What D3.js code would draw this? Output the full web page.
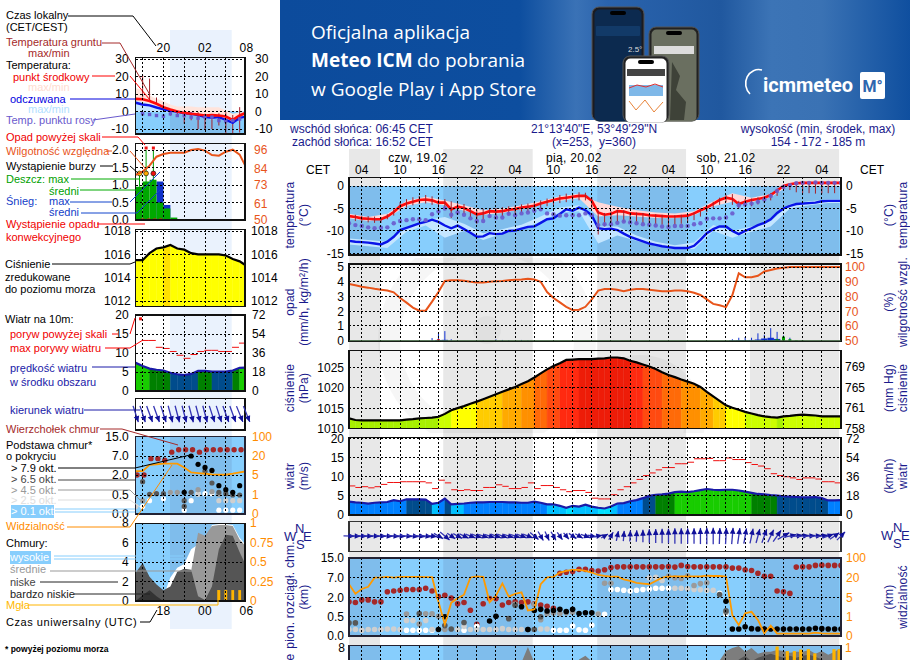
<!DOCTYPE html>
<html><head><meta charset="utf-8">
<script src="https://d3js.org/d3.v7.min.js"></script>
<style>
html,body{margin:0;padding:0;background:#fff;overflow:hidden}
svg{display:block}
text{font-family:"Liberation Sans",Arial,sans-serif;font-size:12px}
</style></head><body>
<svg id="c" width="910" height="660"></svg>
<script>
// ---------- meteogram data: hourly, starting Thursday 02:00 CET ----------
const hourLabels=["04","10","16","22","04","10","16","22","04","10","16","22","04"];
const hourLabelIdx=[2,8,14,20,26,32,38,44,50,56,62,68,74];
const dateLabels=["czw, 19.02","pią, 20.02","sob, 21.02"];
const dateLabelIdx=[10.8,35.2,59];
const nightSpans=[[0,4.85],[14.75,28.75],[38.85,52.75],[62.75,76.7]];
const temp=[-6.7,-6.9,-7.2,-7.3,-7.4,-7.4,-6.8,-5.8,-4.5,-3.9,-3.5,-3.1,-3.0,-3.2,-3.7,-3.7,-5.2,-4.6,-4.9,-5.6,-6.3,-6.1,-5.6,-5.7,-5.6,-5.3,-5.1,-4.8,-4.6,-4.4,-3.9,-3.5,-3.1,-2.8,-2.6,-2.4,-2.2,-2.2,-3.3,-5.9,-6.4,-6.2,-5.6,-5.7,-6.1,-6.2,-6.3,-6.5,-6.6,-6.7,-6.8,-6.8,-6.7,-6.6,-6.1,-5.4,-4.8,-4,-3.1,-2.6,-2.9,-4,-3.5,-3.1,-2.9,-2.6,-2,-1,0,.4,.6,.7,.7,.7,.7,.7,.7,.7];
const feels=[-12.2,-12.4,-12.5,-12.6,-12.8,-13,-12.4,-11.3,-9.8,-9.3,-8.8,-8.3,-8,-7.5,-8,-8.8,-9.4,-8.8,-9.6,-10.4,-11.3,-11.2,-10.5,-10.7,-10.6,-10,-9.9,-9.5,-9.1,-9,-8.2,-7.4,-7.2,-6.2,-5.2,-5.5,-4.8,-5.4,-6.5,-9.4,-9.6,-9.5,-9.8,-10.6,-11.3,-11.8,-12.3,-12.8,-13.1,-13.4,-13.6,-13.8,-13.8,-13.8,-13.3,-12,-10.5,-9.6,-9,-9,-10,-10.7,-10,-9.4,-8.7,-8.2,-7.4,-6,-5,-4.4,-4,-3.9,-3.8,-3.7,-3.4,-3.3,-3.3,-3.3];
const dewPoint=[-8.3,-8.7,-8.9,-9.2,-9.4,-9.3,-9.2,-8.3,-7.8,-7.6,-7.4,-7.4,-7.6,-6.3,-5.7,-5,-6.4,-5.9,-6.4,-7.2,-7.8,-7.8,-6.7,-7,-7,-6.2,-6.5,-6.1,-5.9,-5.5,-5.2,-6.1,-6.3,-6.6,-6.5,-6.5,-6.5,-6.1,-6.5,-8.7,-8.5,-8.5,-8.2,-7.9,-8.1,-8.3,-8.5,-8.6,-8.8,-9,-9.1,-8.9,-8.9,-8.9,-8.5,-8.3,-7.3,-7.2,-7.2,-7,-6.1,-4.3,-4.1,-3.9,-3.5,-3,-2.2,-1.1,-.2,.2,.6,.7,.7,.8,.7,.7,.7,.7];
const soilMax=[-6.3,-6.4,-6.6,-6.7,-6.8,-6.9,-6.3,-5.2,-3.6,-2.9,-2.5,-2.2,-2.0,-2.3,-3.0,-2.9,-3.4,-3.8,-4.0,-4.8,-5.3,-5.1,-4.9,-4.9,-4.7,-4.5,-4.4,-4.1,-3.9,-3.6,-3.2,-2.8,-2.4,-2.0,-1.7,-1.6,-1.4,-1.5,-2.5,-5.5,-6.0,-5.6,-5.3,-5.4,-5.8,-5.9,-6.0,-6.2,-6.3,-6.4,-6.5,-6.5,-6.4,-6.3,-5.8,-5.0,-4.3,-3.5,-2.6,-1.9,-1.8,-3.3,-2.9,-2.8,-2.5,-2.2,-1.6,-0.6,0.2,0.5,0.7,0.8,0.8,0.8,0.8,0.8,0.8,0.8];
const soilMin=[-7.6,-7.8,-8,-8.1,-8.2,-8.2,-7.4,-6.6,-5.4,-4.8,-4.3,-4.0,-3.9,-4.2,-4.8,-5,-7.1,-6,-6.2,-7,-8.4,-7.4,-7,-6.9,-6.8,-6.4,-6.2,-5.9,-5.8,-5.5,-4.9,-4.5,-4.2,-3.8,-3.6,-3.4,-3.2,-3.2,-5,-10.8,-9,-8.6,-8,-8,-8.2,-8.2,-8.3,-8.4,-8.5,-8.6,-8.7,-8.6,-8.4,-8.2,-7.6,-6.8,-5.8,-5,-4.2,-3.6,-4.2,-5,-4.6,-4.5,-4.1,-3.8,-3.2,-2.2,-1,-.9,-1.4,-1.6,-1.6,-1.7,-1.7,-1.6,-1.6,-1.5];
// 3-hourly bands
const bandIdx=[0,3,6,9,12,15,18,21,24,27,30,33,36,39,42,45,48,51,54,57,60,63,66,69,72,75,77];
const tempHi=[-6.2,-6.9,-6.2,-3.3,-2.4,-3.2,-4.3,-5.4,-5.0,-4.3,-3.4,-2.3,-1.7,-3.6,-4.6,-5.4,-5.9,-6.1,-5.6,-3.4,-1.6,-2.6,-1.8,0.9,1.0,1.0,1.0];
const tempLo=[-7.2,-7.8,-7.2,-4.4,-3.6,-4.3,-5.5,-6.4,-6.0,-5.1,-4.2,-3.3,-2.7,-6.8,-6.5,-6.8,-7.1,-7.2,-6.5,-4.5,-3.5,-3.6,-2.5,0.2,.4,.4,.4];
const feelsHi=[-11.7,-12,-12.4,-9.4,-7.6,-6.9,-8.4,-10.5,-9.6,-8.6,-6.8,-4.8,-4.3,-9,-9,-11.0,-12.4,-13.2,-12.6,-8.7,-10,-9,-7.8,-4,-3.4,-3,-3];
const feelsLo=[-13,-13.4,-13.8,-10.2,-8.8,-11.5,-10,-12,-10.6,-9.7,-7.9,-5.9,-5.6,-12.8,-11,-12.2,-13.3,-14,-14,-10,-11.5,-10.2,-9,-5,-4.3,-3.8,-3.8];
const humidity=[88.5,87.6,86.6,86,85.2,84.6,84,82.8,79,75.8,72.5,70.4,70.4,76.5,83,90.5,91,91,90.6,90,89.5,89.5,90,90.3,90.5,91,91.3,91.5,92,91.5,90,83,79,76,73,70.8,71,73,78,84,85,85,84.5,83.5,84.5,85,85,84.5,84,83.5,83.5,84,84,83.5,82.5,81,78,75,74,72.8,81,95.7,93,93,94,97,98,99,99.5,100,100,100,100,100,100,100,100,100];
const snowMax=[[13,.18],[14,.55],[15,.65],[16,.1],[21,.03],[23,.08],[24,.05],[25,.04],[27,.05],[28,.03],[60,.1],[61,.2],[62,.25],[63,.2],[64,.5],[65,.4],[66,.85],[67,.6],[68,.35],[69,.2]];
const snowMean=[[14,.05],[15,.06],[60,.03],[61,.04],[62,.04],[63,.05],[64,.08],[65,.15],[66,.2],[67,.12]];
const rainMean=[[67,.1],[68,.28],[69,.1],[70,.03],[71,.02]];
const pressure=[1012.5,1012.1,1012,1012,1012,1012,1012,1012,1012,1012.2,1012.3,1012.5,1012.6,1012.7,1012.9,1013.6,1014.5,1015,1015.5,1016.1,1016.6,1017.2,1017.8,1018.4,1019,1019.6,1020.2,1020.9,1021.6,1022.5,1023.5,1024.5,1025.3,1026,1026.8,1026.9,1027,1027,1027,1027.1,1027.2,1027.4,1027.4,1027.2,1026.6,1026.2,1025.7,1025.2,1024.6,1023.8,1023.1,1022.6,1022,1021.5,1021,1020.2,1019,1017.9,1016.8,1015.7,1015.1,1014.6,1014.1,1013.7,1013.3,1013,1012.8,1012.7,1013,1013.1,1013.3,1013.4,1013.3,1013.2,1013,1013,1013,1013];
const pressureBreaks=[1012.8,1014.5,1016.4,1018.5,1020.5,1022.2,1024,1026,1027];
const pressureColors=["#a8f000","#ccff00","#ffff00","#ffcc00","#ffaa00","#ff9000","#ff6a08","#ff4a10","#ff2a10","#ee1c08"];
const wind=[3.5,3.3,3.2,3,3.2,3.3,3.4,3.9,3.6,4.1,4.1,4.1,4,2.9,3.2,4.3,2.8,2.9,3,3.2,3.3,3.3,3.4,3.4,3.4,3.3,3.3,3.2,3.2,3.5,3.2,2.8,2.8,2.4,1.9,2.4,2.2,2.7,2.2,1.9,1.7,2.2,3,3.1,3.6,3.9,4.4,5,5.3,5.4,5.6,6,6.1,6,6.2,6.5,6.8,6.6,6.5,6.6,6.6,6.4,6.1,5.8,5.5,5.4,5.2,5.1,4.9,4.8,4.7,4.6,4.6,4.7,4.4,3.8,3.8,3.9];
const windBreaks=[2,3,4,5.2,6];
const windColors=["#00e0ff","#00c0ff","#0080ff","#004c8c","#008000","#18cc00"];
const gust=[7.6,7.2,7.4,7.1,7.4,8,8.5,8.5,8.7,8.7,8.7,8.7,8.4,6.9,9.1,8.4,6.6,6.4,6.6,6.4,6.4,7.2,7.2,7.9,7.5,6.9,6.9,7.2,8.4,6.9,7.7,7.7,7.2,6.6,6.1,6.4,6.4,5.9,4.4,4.2,4.2,5.3,6.6,7.4,8.4,9.3,10.3,11,11.8,12.4,12.4,13.4,13.4,13.8,14.7,14.7,14.8,14.2,14.2,14.9,14.5,14.5,13.7,13.2,12.8,12.1,10.8,10.3,10,9.7,9.3,9.7,9.7,9.4,8.7,8.7,8.4,8.4];
const windHeading=[92,92,93,93,94,94,95,95,94,95,96,96,97,98,120,130,125,118,115,112,110,108,108,110,110,108,108,110,112,130,150,155,150,145,140,125,120,110,100,80,60,30,12,5,3,2,0,0,0,0,0,0,0,0,0,0,0,0,2,3,5,8,10,12,15,20,25,35,60,78,82,84,85,85,82,70,55,45];
const cloudTop=[1.65,1.6,1.8,1.8,1.65,1.65,3.4,3.6,3.8,4,4,4,4.3,3.6,2.2,2.5,1.95,1.5,1.6,1,.3,1.5,1.9,1.9,1.4,1.6,1.65,1.6,1.65,1.5,1.4,1.3,1.15,8.8,9.2,9.5,10.4,10.4,9.9,9.7,10.2,11.1,11.4,11.4,11.4,11.4,11.4,11.4,11.4,11.4,11.5,11.3,12,11.5,11.4,11.4,11.4,11.4,11.4,11.4,10.9,10.9,10.2,9.9,8.8,7.6,7.6,3.6,3.4,3,11.3,11.4,11.4,12,12.1,12,12,12];
const baseBlack=[[14,.17],[15,.5],[22,.39],[23,.53],[27,1.27],[28,.17],[29,.97],[30,1.07],[31,.94],[32,.97],[33,1.07],[34,.9],[35,1.07],[36,.75],[37,.8],[38,.8],[59,1.7],[60,.18],[61,.18],[62,.24],[63,.19],[64,.18],[65,.18],[66,.18],[67,.18],[68,.18],[69,.18],[70,.18],[71,.18],[72,.18],[73,.2],[74,.19],[75,.18],[76,.18],[77,.18]];
const baseDark=[[0,.34],[1,.34],[11,.75],[15,.27],[16,.18],[18,.35],[25,.45],[26,1.38],[29,.17],[28,.17],[30,.5],[58,2.7],[59,.95]];
const baseMid=[[9,.7],[12,.72],[13,.72],[14,.53],[11,.31],[26,1.45],[29,1.45],[30,.42],[31,.75],[32,.78],[33,.75],[34,.8],[35,.85],[39,.7],[40,5.6],[41,5.6],[50,7.6],[51,7],[52,6.8],[53,7.8],[54,5],[55,5.5],[56,5.7],[59,.85],[15,.17]];
const baseLight=[[0,.17],[1,.17],[2,.15],[3,.17],[4,.17],[5,.17],[6,.18],[7,.18],[8,.17],[9,.4],[10,.4],[12,.4],[13,.17],[14,.17],[17,.17],[18,.25],[19,.17],[20,.17],[21,.17],[22,.17],[23,.17],[24,.19],[25,.17],[26,.17],[27,.17],[30,.18],[31,.18],[47,7],[48,7.2],[49,6.3],[51,4.3],[52,4.3],[53,4.2],[54,4],[55,3.9],[56,3.8],[57,3.8]];
const baseWhite=[[9,.15],[10,.15],[11,.15],[12,.15],[13,.15],[18,.15],[20,.25],[32,.15],[33,.15],[34,.15],[35,.26],[36,.16],[37,.15],[38,.28],[39,.68],[40,.68],[41,4],[42,4],[43,3.8],[44,3.6],[45,3.8],[46,4],[47,4.1],[48,4.3],[49,4.3],[50,4.3],[58,3],[59,.7]];
const visibility=[15,7.8,11.4,13,20,21,23,20,23,23,23,23,22.5,22,4.1,.6,3.9,4.8,7,21,25,23,4,6.3,15.6,5.5,7.6,8.8,2.3,2.5,15,21,23,41,48,52,52,48,41,31,27,24,24,18.7,17.5,16,15.5,15,17.5,20,24,25,25,25,25,25,28,27,27,25,1.3,.57,1.7,2,.83,.14,.53,.12,.12,.12,.12,.12,.12,.17,.14,.12,.12,.12];
const coverMid=[[26,0],[27,6.5],[28,8.1],[29,6.5],[30,0],[35,0],[36,6.8],[37,7.2],[38,6.6],[39,0],[57,0],[58,6.7],[59,7.7],[60,8],[61,8.2],[62,7.6],[63,8],[64,7.4],[65,7.6],[66,7.6],[67,7.8],[68,7.7],[69,7.5],[70,7.6],[71,7.6],[72,7.8],[73,7.4],[74,7.7],[75,7.3],[76,7.6],[77,8]];
const coverLow=[[60,0],[61,6.8],[62,7.2],[63,6.6],[64,7],[65,7.2],[66,7.4],[67,7.2],[68,7],[69,7.2],[70,7],[71,7.2],[72,7.3],[73,7.1],[74,6.8],[75,6.6],[76,0]];
const fog=[[67,1.02],[68.6,.96],[69.7,.96],[70.7,.98],[71.9,.985],[72.9,.93],[75.9,.985],[76.7,.985]];

// ---------- side meteogram (legend): hourly, 17 points ----------
const lIdx=d3.range(0,17);
const lTemp=[7.2,7,6,4.4,2.5,1.2,0,-.8,-1.3,-1.7,-2.3,-2.1,-2.3,-2.9,-4.8,-2.3,-.6];
const lFeels=[5,4,3.5,2.3,1.2,.4,-.2,-1,-1.3,-2,-3.2,-3.6,-3.2,-4.8,-6.5,-3.6,-2.9];
const lTempHi=[13.4,12,9.2,7.3,5.8,4,2.9,2.9,2.9,2.5,2.5,2.5,2.5,.6,-1.3,-.4,-.4];
const lTempLo=[5.5,5,4.5,3,1.5,0,-1,-1.8,-2,-2.5,-3,-3,-3,-4,-5.5,-3.2,-2];
const lFeelsHi=[6.2,5.5,4.5,3.2,2,1.2,.5,-.3,-.8,-1.3,-2.3,-2.8,-2.5,-3.8,-5.5,-2.8,-2];
const lFeelsLo=[0,0,0,0,-.3,-.8,-1,-1.8,-2,-2.8,-4,-4.5,-4,-5.5,-7.5,-4.5,-3.8];
const lDew=[-1.3,-1.7,-2.3,-2.7,-1.3,-2.3,-2.3,-3.2,-3.8,-3.2,-3.2,-5.2,-5.5,-5.2,-4.3];
const lSoilMax=[20.8,18.8,8,5,.5,0,-1.3,-.5,-.4,-1.3,-1.5,-1,-.4,-2,2.5];
const lSoilMin=[8,6.3,4.4,1.5,-2.3,-3,-7,-5,-10,-10,-10,-8,-12.9,-12.7,-12];
const lHumidity=[79.6,81.8,85.7,91.6,93.4,94.2,94.2,94.2,96,96.7,95.6,92.7,92.3,94.9,96.2,93,84];
const lRain=[.95,1.1,1.15,.5,.33,.07];
const lSnow=[0,0,0,1.1,.43,0];
const lPressure=[1015.5,1015.5,1016.1,1016.5,1016.6,1016.8,1016.5,1016.4,1016.1,1016,1016,1016,1016,1015.9,1015.6,1015.4,1015];
const lWind=[7.4,6.6,5.9,5.6,5.4,4.8,4.4,4.2,4.5,5.3,5.3,5.1,5.1,5.1,5.4,6.1,6.2];
const lGust=[13.3,13.3,11.5,11.2,10.4,9.4,8.6,9.6,10.4,10.7,10.7,10.4,10.4,11.5,12.6,12.8];
const lHeading=[162,162,160,160,162,165,165,165,165,165,165,162,162,160,160,158,158];
const lTop=[2,2,6.3,6.3,5.9,8.6,9.6,9.6,9.6,8.6,9.6,9.6,9.6,9.6,9.6,9.6,9.6];
const lBlack=[[7,.7],[8,7],[9,4.8],[10,4],[11,3.2],[12,1.2],[13,.9],[14,.7],[15,1.2]];
const lDark=[[1,1.5],[2,.55],[3,.6],[4,.6],[7,.35],[7,.2],[8,.7],[10,3],[11,1.4],[12,.7],[13,.6],[14,.5],[15,.5]];
const lMid=[[1,.35],[5,.7],[6,.7],[9,.9],[11,.75],[12,.55],[16,1.3]];
const lLight=[[0,.2],[5,.7],[9,.55],[12,.35],[13,.35],[14,.35],[15,.35]];
const lWhite=[[1,.2],[2,.35],[4,.4],[7,.1],[8,.35],[9,.6],[10,.6],[11,.6],[12,.1],[13,.1],[14,.1],[15,.1]];
const lVis=[8,8,13,13.5,14,14,14,11,7,6.5,6,5.5,5.2,5.2,6,7,8];
const lHigh=[0,0,0,0,.5,2.4,3.4,3.8,5.3,5.8,5.8,7.8,7.9,7.9,7.8,6.5,5.6];
const lCloudMid=[0,0,0,0,0,0,0,2.4,3.1,7,6.7,7.7,7.8,7.8,7.7,6.3,5.5];
const lLow=[2.9,3.9,2.5,1.7,1.1,1.5,3,3.3,3.2,.5,.1,1.5,5.3,6.8,6.7,5,3.5];
const lVeryLow=[0,.6,1.1,.5,0,0,0,0,0,0,0,0,0,0,0,0,0];
const lFog=[0,0,0,0,0,0,0,0,0,0,0,0,.14,.14,.14,.14,0];

const lDateTop=["20","02","08"], lDateBottom=["18","00","06"], lLabelIdx=[4,10,16];

// ---------- drawing ----------
const svg=d3.select("#c");
const BLUE="#87cefd", NIGHTBLUE="#7fbdec", NAVY="#1a1a8c";
const xM=d3.scaleLinear().domain([0,77]).range([349,841]);
const xL=d3.scaleLinear().domain([0,16]).range([135.7,246.6]);
const defs=svg.append("defs");
const grad=defs.append("linearGradient").attr("id","bn");
[[0,"#0c4b9c"],[.38,"#0d4e9f"],[.47,"#3a72b6"],[.52,"#2a63ad"],[.7,"#20589f"],[.78,"#3c74b6"],[.86,"#3a72b4"],[1,"#0f4f9f"]].forEach(s=>grad.append("stop").attr("offset",s[0]).attr("stop-color",s[1]));

function clipId(id,x,y,w,h){defs.append("clipPath").attr("id",id).append("rect").attr("x",x).attr("y",y).attr("width",w).attr("height",h);return `url(#${id})`;}

// night bands
nightSpans.forEach(s=>svg.append("rect").attr("x",xM(s[0])).attr("y",149).attr("width",xM(s[1])-xM(s[0])).attr("height",511).attr("fill","#e8e8e8"));
svg.append("rect").attr("x",xL(4.95)).attr("y",30).attr("width",xL(13.85)-xL(4.95)).attr("height",599).attr("fill","#eaf2fd");

// watermark
const wmClip=clipId("wm",349,258,492,175);
const wm=svg.append("g").attr("clip-path",wmClip).attr("fill","none").attr("stroke","#000").attr("stroke-opacity",.035);
wm.append("circle").attr("cx",487).attr("cy",340).attr("r",98).attr("stroke-width",22);
wm.append("circle").attr("cx",487).attr("cy",330).attr("r",14).attr("fill","#000").attr("fill-opacity",.03).attr("stroke","none");
wm.append("circle").attr("cx",640).attr("cy",420).attr("r",55).attr("stroke-width",20);

// generic panel
function panel(o){
  const g=svg.append("g");
  const id="p"+Math.round(o.x0)+"_"+Math.round(o.y0);
  const cl=clipId(id,o.x0,o.y0,o.x1-o.x0,o.y1-o.y0);
  const body=g.append("g").attr("clip-path",cl);
  o.g=g;o.body=body;o.clip=cl;
  return o;
}
function finish(p,opts){
  const gr=p.body.append("g").attr("stroke","#000").attr("stroke-width",1).attr("stroke-dasharray","2,2").attr("shape-rendering","crispEdges");
  (opts.vgrid||[]).forEach(v=>gr.append("line").attr("x1",opts.x(v)).attr("x2",opts.x(v)).attr("y1",p.y0).attr("y2",p.y1));
  (opts.hgrid||[]).forEach(y=>gr.append("line").attr("x1",p.x0).attr("x2",p.x1).attr("y1",y).attr("y2",y));
  p.g.append("rect").attr("x",p.x0).attr("y",p.y0).attr("width",p.x1-p.x0).attr("height",p.y1-p.y0).attr("fill","none").attr("stroke",opts.frame||"#111").attr("stroke-width",1.2).attr("shape-rendering","crispEdges");
}
function axis(gen,x,scale,vals,fmt,color,pad){
  const a=gen(scale).tickValues(vals).tickSize(0).tickPadding(pad).tickFormat((d,i)=>fmt?fmt(d,i):d);
  const g=svg.append("g").attr("transform",`translate(${x},0)`).call(a);
  g.select(".domain").remove();
  g.selectAll("text").attr("fill",color||"#000").style("font-size","12px").style("font-family",'"Liberation Sans",Arial,sans-serif');
}
function lineOf(x,y){return d3.line().x((d,i)=>x(i)).y(d=>y(d));}
function bandOf(x,y,idx,hi,lo){return d3.area().x((d,i)=>x(idx[i])).y0((d,i)=>y(lo[i])).y1((d,i)=>y(hi[i]))(idx);}
function night(p,x,spans){spans.forEach(s=>p.body.append("rect").attr("x",x(s[0])).attr("y",p.y0).attr("width",x(s[1])-x(s[0])).attr("height",p.y1-p.y0).attr("fill",NIGHTBLUE));}
const vM=d3.range(2,78,3), vL=[1,4,7,10,13];

// ========= MAIN PANELS =========
// temperature
{
 const p=panel({x0:349,x1:841,y0:177.3,y1:255});
 const y=d3.scaleLinear().domain([0,-15]).range([186,253.4]);
 p.body.append("rect").attr("x",349).attr("y",y(0)).attr("width",492).attr("height",80).attr("fill",BLUE);
 nightSpans.forEach(s=>p.body.append("rect").attr("x",xM(s[0])).attr("y",y(0)).attr("width",xM(s[1])-xM(s[0])).attr("height",80).attr("fill",NIGHTBLUE));
 p.body.append("path").attr("d",bandOf(xM,y,bandIdx,feelsHi,feelsLo)).attr("fill","#c4e6ff");
 p.body.append("path").attr("d",bandOf(xM,y,bandIdx,tempHi,tempLo)).attr("fill","#ffd8d8");
 p.body.append("path").attr("d",lineOf(xM,y)(feels)).attr("fill","none").attr("stroke","#0a14e8").attr("stroke-width",2.4);
 p.body.append("path").attr("d",lineOf(xM,y)(temp)).attr("fill","none").attr("stroke","#ff0a0a").attr("stroke-width",2.6);
 p.body.selectAll(".soil").data(soilMax).join("line").attr("x1",(d,i)=>xM(i)).attr("x2",(d,i)=>xM(i)).attr("y1",d=>y(d)).attr("y2",(d,i)=>y(soilMin[i])).attr("stroke","#a5202a").attr("stroke-width",1);
 p.body.selectAll(".dew").data(dewPoint).join("circle").attr("cx",(d,i)=>xM(i)).attr("cy",d=>y(d)).attr("r",2.2).attr("fill","#6a5acd").attr("fill-opacity",.9);
 finish(p,{x:xM,vgrid:vM,hgrid:[0,-5,-10,-15].map(y)});
 axis(d3.axisLeft,349,y,[0,-5,-10,-15],null,"#000",5);
 axis(d3.axisRight,841,y,[0,-5,-10,-15],null,"#000",5);
}
// precipitation / humidity
{
 const p=panel({x0:349,x1:841,y0:264,y1:341.7});
 const y=d3.scaleLinear().domain([0,5]).range([340.7,267]);
 const yR=d3.scaleLinear().domain([50,100]).range([340.7,267]);
 snowMax.forEach(d=>p.body.append("line").attr("x1",xM(d[0])).attr("x2",xM(d[0])).attr("y1",y(0)).attr("y2",y(d[1])).attr("stroke","#1030d0").attr("stroke-width",1));
 snowMean.forEach(d=>p.body.append("rect").attr("x",xM(d[0])-3.2).attr("y",y(d[1])).attr("width",6.4).attr("height",y(0)-y(d[1])).attr("fill","#1030d0"));
 rainMean.forEach(d=>p.body.append("rect").attr("x",xM(d[0])-1.5).attr("y",y(d[1])).attr("width",3).attr("height",y(0)-y(d[1])).attr("fill","#00a000"));
 p.body.append("rect").attr("x",xM(14)-1.5).attr("y",y(.1)).attr("width",3).attr("height",y(0)-y(.1)).attr("fill","#e01010");
 p.body.append("path").attr("d",lineOf(xM,yR)(humidity)).attr("fill","none").attr("stroke","#e8541a").attr("stroke-width",2);
 finish(p,{x:xM,vgrid:vM,hgrid:[1,2,3,4,5].map(y)});
 p.g.append("line").attr("x1",349).attr("x2",841).attr("y1",340.7).attr("y2",340.7).attr("stroke","#355a35").attr("stroke-width",1);
 axis(d3.axisLeft,349,y,[0,1,2,3,4,5],null,"#000",5);
 axis(d3.axisRight,841,yR,[50,60,70,80,90,100],null,"#e8541a",4);
}
// pressure
function pressureFill(p,x,y,vals,color){
  vals.slice(0,-1).forEach((v,i)=>{
    const seg=[i,i+1];
    p.body.append("path").attr("d",d3.area().x(d=>x(d)).y0(p.y1).y1(d=>y(vals[d]))(seg)).attr("fill",color(v)).attr("stroke",color(v)).attr("stroke-width",.4);
  });
}
const pColor=d3.scaleThreshold().domain(pressureBreaks).range(pressureColors);
{
 const p=panel({x0:349,x1:841,y0:350.7,y1:428.3});
 const y=d3.scaleLinear().domain([1010,1025]).range([428.6,367.3]);
 pressureFill(p,xM,y,pressure,pColor);
 p.body.append("path").attr("d",lineOf(xM,y)(pressure)).attr("fill","none").attr("stroke","#000").attr("stroke-width",2.2);
 finish(p,{x:xM,vgrid:vM,hgrid:[1015,1020,1025].map(y)});
 axis(d3.axisLeft,349,y,[1010,1015,1020,1025],null,"#000",5);
 const labs=[758,761,765,769];
 const yPos=d3.scaleOrdinal().domain(labs).range([428.6,408.3,387.7,367.3]);
 svg.selectAll(".mmhg").data(labs).join("text").attr("x",845).attr("y",d=>yPos(d)+4).text(d=>d);
}
// wind
const wColor=d3.scaleThreshold().domain(windBreaks).range(windColors);
{
 const p=panel({x0:349,x1:841,y0:437.7,y1:515});
 const y=d3.scaleLinear().domain([0,20]).range([515,438.5]);
 pressureFill(p,xM,y,wind,wColor);
 p.body.append("path").attr("d",lineOf(xM,y)(wind)).attr("fill","none").attr("stroke","#1a1aa8").attr("stroke-width",2.2);
 p.body.selectAll(".g").data(gust).join("line").attr("x1",(d,i)=>xM(i)).attr("x2",(d,i)=>xM(i+1)).attr("y1",d=>y(d)).attr("y2",d=>y(d)).attr("stroke","#f01010").attr("stroke-width",1);
 finish(p,{x:xM,vgrid:vM,hgrid:[5,10,15,20].map(y)});
 axis(d3.axisLeft,349,y,[0,5,10,15,20],null,"#000",5);
 const yR=d3.scaleLinear().domain([0,72]).range([515,438.5]);
 axis(d3.axisRight,841,yR,[0,18,36,54,72],null,"#000",5);
}
// wind direction
function arrows(sel,x,yMid,headings,speeds,len){
  const dir=h=>[Math.sin(h*Math.PI/180),-Math.cos(h*Math.PI/180)];
  headings.forEach((h,i)=>{
    if(h==null)return;
    const [dx,dy]=dir(h), L=len(speeds[i])/2, cx=x(i);
    sel.append("line").attr("x1",cx-dx*L).attr("y1",yMid-dy*L).attr("x2",cx+dx*L).attr("y2",yMid+dy*L).attr("stroke","#3434b4").attr("stroke-width",1.3);
    const hx=cx+dx*L, hy=yMid+dy*L, s=6, w=2.8;
    const bx=hx-dx*s, by=hy-dy*s;
    sel.append("path").attr("d",`M${hx},${hy}L${bx-dy*w},${by+dx*w}L${bx+dy*w},${by-dx*w}Z`).attr("fill","#10109a");
  });
}
{
 const p=panel({x0:349,x1:841,y0:521.7,y1:551.7});
 finish(p,{x:xM,vgrid:vM,hgrid:[],frame:"#333"});
 arrows(svg.append("g"),xM,536,windHeading,wind,d3.scaleLinear().domain([0,7]).range([5,17]));
}
// cloud panels
const kmDom=[0,.5,2,7,15], visDom=[0,1,5,20,100];
function dots(g,x,y,pairs,fill,r){pairs.forEach(d=>g.append("circle").attr("cx",x(d[0])).attr("cy",y(d[1])).attr("r",r).attr("fill",fill));}
{
 const p=panel({x0:349,x1:841,y0:558,y1:636});
 const rng=[636,616.7,597.3,577.7,558];
 const y=d3.scaleLinear().domain(kmDom).range(rng);
 const yV=d3.scaleLinear().domain(visDom).range(rng);
 p.body.append("rect").attr("x",349).attr("y",558).attr("width",492).attr("height",78).attr("fill",BLUE);
 night(p,xM,nightSpans);
 dots(p.body,xM,y,cloudTop.map((v,i)=>[i,v]),"#a52828",2.8);
 dots(p.body,xM,y,baseWhite,"#ffffff",2.8);
 dots(p.body,xM,y,baseLight,"#cfcfcf",2.8);
 dots(p.body,xM,y,baseMid,"#9a9a9a",2.8);
 dots(p.body,xM,y,baseDark,"#585858",2.8);
 dots(p.body,xM,y,baseBlack,"#000",2.8);
 p.body.append("path").attr("d",lineOf(xM,yV)(visibility)).attr("fill","none").attr("stroke","#ff9a00").attr("stroke-width",1.8);
 finish(p,{x:xM,vgrid:vM,hgrid:rng.slice(1,4),frame:"#223"});
 axis(d3.axisLeft,349,y,kmDom,d=>d3.format(".1f")(d),"#000",5);
 axis(d3.axisRight,841,yV,visDom,null,"#ff8c00",5);
}
{
 const p=panel({x0:349,x1:841,y0:645.7,y1:662});
 const y=d3.scaleLinear().domain([0,8]).range([725,648]);
 const yF=d3.scaleLinear().domain([0,1]).range([725,648]);
 p.body.append("rect").attr("x",349).attr("y",645).attr("width",492).attr("height",20).attr("fill",BLUE);
 night(p,xM,nightSpans);
 const ar=d3.area().x(d=>xM(d[0])).y0(y(0)).y1(d=>y(d[1]));
 p.body.append("path").attr("d",ar(coverMid)).attr("fill","#7d7d7d");
 p.body.append("path").attr("d",ar(coverLow)).attr("fill","#555");
 fog.forEach(d=>p.body.append("rect").attr("x",xM(d[0])-1.6).attr("y",yF(d[1])).attr("width",3.2).attr("height",yF(0)-yF(d[1])).attr("fill","#ffb400"));
 finish(p,{x:xM,vgrid:vM,hgrid:[],frame:"#223"});
 svg.append("text").attr("x",345).attr("y",652).attr("text-anchor","end").text("8");
 svg.append("text").attr("x",845).attr("y",652).attr("fill","#ff8c00").text("1");
}
// ========= SIDE PANELS =========
const L0=135.7,L1=245;
{
 const p=panel({x0:L0,x1:L1,y0:57.5,y1:134});
 const y=d3.scaleLinear().domain([-10,30]).range([129,59]);
 p.body.append("rect").attr("x",L0).attr("y",y(0)).attr("width",L1-L0).attr("height",30).attr("fill",BLUE);
 p.body.append("rect").attr("x",xL(4.95)).attr("y",y(0)).attr("width",xL(13.85)-xL(4.95)).attr("height",30).attr("fill",NIGHTBLUE);
 p.body.append("path").attr("d",bandOf(xL,y,lIdx,lTempHi,lTempLo)).attr("fill","#ffe4dc");
 p.body.append("path").attr("d",bandOf(xL,y,lIdx,lFeelsHi,lFeelsLo)).attr("fill","#c4e6ff");
 p.body.selectAll(".s").data(lSoilMax).join("line").attr("x1",(d,i)=>xL(i+1)).attr("x2",(d,i)=>xL(i+1)).attr("y1",d=>y(d)).attr("y2",(d,i)=>y(lSoilMin[i])).attr("stroke","#a5202a");
 p.body.append("path").attr("d",lineOf(xL,y)(lFeels)).attr("fill","none").attr("stroke","#0a14e8").attr("stroke-width",2.4);
 p.body.append("path").attr("d",lineOf(xL,y)(lTemp)).attr("fill","none").attr("stroke","#ff0a0a").attr("stroke-width",2.6);
 p.body.selectAll(".d").data(lDew).join("rect").attr("x",(d,i)=>xL(i+1)-1.7).attr("y",d=>y(d)-1.7).attr("width",3.4).attr("height",3.4).attr("fill","#6a5acd");
 finish(p,{x:xL,vgrid:vL,hgrid:[30,20,10,0,-10].map(y)});
 axis(d3.axisLeft,L0,y,[30,20,10,0,-10],null,"#000",7);
 axis(d3.axisRight,L1,y,[30,20,10,0,-10],null,"#000",10);
}
{
 const p=panel({x0:L0,x1:L1,y0:143.3,y1:220});
 const y=d3.scaleLinear().domain([0,2]).range([220,150]);
 const yR=d3.scaleLinear().domain([50,96]).range([220,150]);
 lSnow.forEach((v,i)=>{if(v)p.body.append("rect").attr("x",xL(i)).attr("y",y(v)).attr("width",xL(1)-xL(0)).attr("height",y(0)-y(v)).attr("fill","#1030c8");});
 lRain.forEach((v,i)=>p.body.append("rect").attr("x",xL(i)).attr("y",y(v)).attr("width",xL(1)-xL(0)).attr("height",y(0)-y(v)).attr("fill","#00a800"));
 const stormX=[.55,1.5,2.55], stormCol=["#ffe000","#ffaa00","#f01010"];
 stormX.forEach((s,i)=>{
   p.body.append("line").attr("x1",xL(s)).attr("x2",xL(s)).attr("y1",i?y(2):y(1.35)).attr("y2",y(.95)).attr("stroke","#00a000").attr("stroke-width",1);
   if(i)p.body.append("rect").attr("x",xL(s)-1.5).attr("y",y(2)-3.5).attr("width",3).attr("height",3).attr("fill","#f01010");
   p.body.append("circle").attr("cx",xL(s)).attr("cy",y(1.33)).attr("r",2.4).attr("fill",stormCol[i]).attr("stroke","#000").attr("stroke-width",.6);
 });
 p.body.append("path").attr("d",lineOf(xL,yR)(lHumidity)).attr("fill","none").attr("stroke","#e8541a").attr("stroke-width",2);
 p.body.append("line").attr("x1",xL(.8)).attr("x2",xL(4)).attr("y1",219).attr("y2",219).attr("stroke","#f01010").attr("stroke-dasharray","3,3").attr("stroke-width",1.2);
 finish(p,{x:xL,vgrid:vL,hgrid:[.5,1,1.5,2].map(y)});
 axis(d3.axisLeft,L0,y,[0,.5,1,1.5,2],d=>d3.format(".1f")(d),"#000",7);
 axis(d3.axisRight,L1,yR,[50,61,73,84,96],null,"#e8541a",9);
}
{
 const p=panel({x0:L0,x1:L1,y0:229.3,y1:306.7});
 const y=d3.scaleLinear().domain([1012,1018]).range([301,231]);
 const c=v=>(v>1016.55&&v<1016.7)?"#ffe000":"#ffff00";
 pressureFill(p,xL,y,lPressure,c);
 p.body.append("path").attr("d",lineOf(xL,y)(lPressure)).attr("fill","none").attr("stroke","#000").attr("stroke-width",2.2);
 finish(p,{x:xL,vgrid:vL,hgrid:[1012,1014,1016,1018].map(y)});
 axis(d3.axisLeft,L0,y,[1012,1014,1016,1018],null,"#000",5);
 axis(d3.axisRight,L1,y,[1012,1014,1016,1018],null,"#000",6);
}
{
 const p=panel({x0:L0,x1:L1,y0:315,y1:391});
 const y=d3.scaleLinear().domain([0,20]).range([391,315]);
 const yR=d3.scaleLinear().domain([0,72]).range([391,315]);
 pressureFill(p,xL,y,lWind,wColor);
 p.body.append("path").attr("d",lineOf(xL,y)(lWind)).attr("fill","none").attr("stroke","#1a1aa8").attr("stroke-width",2.2);
 p.body.selectAll(".g").data(lGust).join("line").attr("x1",(d,i)=>xL(i+.9)).attr("x2",(d,i)=>xL(i+1.9)).attr("y1",d=>y(d)).attr("y2",d=>y(d)).attr("stroke","#f01010").attr("stroke-width",1);
 p.body.append("rect").attr("x",xL(.7)-1.5).attr("y",y(19)-1.5).attr("width",3).attr("height",3).attr("fill","#f01010");
 finish(p,{x:xL,vgrid:vL,hgrid:[5,10,15,20].map(y)});
 axis(d3.axisLeft,L0,y,[0,5,10,15,20],null,"#000",7);
 axis(d3.axisRight,L1,yR,[0,18,36,54,72],null,"#000",7);
}
{
 const p=panel({x0:L0,x1:L1,y0:398.3,y1:430});
 finish(p,{x:xL,vgrid:vL,hgrid:[]});
 arrows(svg.append("g"),xL,414,lHeading,lWind,d3.scaleLinear().domain([0,8]).range([17,17]));
}
{
 const p=panel({x0:L0,x1:L1,y0:436.7,y1:514});
 const rng=[514,495,475,456,436.7];
 const y=d3.scaleLinear().domain(kmDom).range(rng);
 const yV=d3.scaleLinear().domain(visDom).range(rng);
 p.body.append("rect").attr("x",L0).attr("y",436).attr("width",L1-L0).attr("height",80).attr("fill",BLUE);
 night(p,xL,[[4.95,13.85]]);
 dots(p.body,xL,y,lTop.map((v,i)=>[i+.2,v]),"#a52828",2.7);
 dots(p.body,xL,y,lWhite,"#fff",2.6);
 dots(p.body,xL,y,lLight,"#cfcfcf",2.6);
 dots(p.body,xL,y,lMid,"#9a9a9a",2.6);
 dots(p.body,xL,y,lDark,"#585858",2.6);
 dots(p.body,xL,y,lBlack,"#000",2.6);
 p.body.append("path").attr("d",lineOf(xL,yV)(lVis)).attr("fill","none").attr("stroke","#ff9a00").attr("stroke-width",1.8);
 finish(p,{x:xL,vgrid:vL,hgrid:rng.slice(1,4),frame:"#223"});
 axis(d3.axisLeft,L0,y,kmDom,d=>d3.format(".1f")(d),"#000",7);
 axis(d3.axisRight,L1,yV,visDom,null,"#ff8c00",7);
}
{
 const p=panel({x0:L0,x1:L1,y0:523.3,y1:601});
 const y=d3.scaleLinear().domain([0,8]).range([601,523]);
 const yR=d3.scaleLinear().domain([0,1]).range([601,523]);
 p.body.append("rect").attr("x",L0).attr("y",523).attr("width",L1-L0).attr("height",80).attr("fill",BLUE);
 night(p,xL,[[4.95,13.85]]);
 const ar=v=>d3.area().x((d,i)=>xL(i)).y0(601).y1(d=>y(d))(v);
 p.body.append("path").attr("d",ar(lHigh)).attr("fill","#fff");
 p.body.append("path").attr("d",ar(lCloudMid)).attr("fill","#999");
 p.body.append("path").attr("d",ar(lLow)).attr("fill","#555");
 p.body.append("path").attr("d",ar(lVeryLow)).attr("fill","#333");
 lFog.forEach((v,i)=>{if(v)p.body.append("rect").attr("x",xL(i)-1.4).attr("y",yR(v)).attr("width",2.8).attr("height",601-yR(v)).attr("fill","#ffb400");});
 finish(p,{x:xL,vgrid:vL,hgrid:[2,4,6].map(y)});
 axis(d3.axisLeft,L0,y,[0,2,4,6,8],null,"#000",7);
 axis(d3.axisRight,L1,yR,[0,.25,.5,.75,1],null,"#ff8c00",5);
}
// x labels
lDateTop.forEach((t,i)=>svg.append("text").attr("x",xL(lLabelIdx[i])).attr("y",52).attr("text-anchor","middle").style("letter-spacing","0.3px").text(t));
lDateBottom.forEach((t,i)=>svg.append("text").attr("x",xL(lLabelIdx[i])).attr("y",615).attr("text-anchor","middle").style("letter-spacing","0.3px").text(t));
hourLabels.forEach((t,i)=>svg.append("text").attr("x",xM(hourLabelIdx[i])).attr("y",174).attr("text-anchor","middle").text(t));
dateLabels.forEach((t,i)=>svg.append("text").attr("x",xM(dateLabelIdx[i])).attr("y",162).attr("text-anchor","middle").style("letter-spacing","0.3px").text(t));
svg.append("text").attr("x",306).attr("y",174).text("CET");
svg.append("text").attr("x",860).attr("y",174).text("CET");

// header
[["wschód słońca: 06:45 CET",290,133,"start"],["zachód słońca: 16:52 CET",292,146,"start"],["21°13'40\"E, 53°49'29\"N",594,133,"middle"],["(x=253,  y=360)",594,146,"middle"],["wysokość (min, środek, max)",818,133,"middle"],["154 - 172 - 185 m",818,146,"middle"]]
 .forEach(d=>svg.append("text").attr("x",d[1]).attr("y",d[2]).attr("text-anchor",d[3]).attr("fill",NAVY).style("white-space","pre").text(d[0]));
// rotated titles
[["temperatura",294,215],["(°C)",308,215],["opad",294,302],["(mm/h, kg/m²/h)",308,302],["ciśnienie",294,388],["(hPa)",308,388],["wiatr",294,476],["(m/s)",308,476],["pion. rozciągł. chm.",294,595],["(km)",308,597],["e",294,657],
 ["(°C)",893,215],["temperatura",907,215],["(%)",893,302],["wilgotność wzgl.",907,302],["(mm Hg)",893,388],["ciśnienie",907,388],["(km/h)",893,476],["wiatr",907,476],["(km)",893,597],["widzialność",907,597]]
 .forEach(d=>svg.append("text").attr("transform",`translate(${d[1]},${d[2]}) rotate(-90)`).attr("text-anchor","middle").attr("fill",NAVY).style("letter-spacing","0.2px").text(d[0]));
// compass
[[["W",284,541],["N",295,533],["E",303,541],["S",296,549]],[["W",881,540],["N",893,532],["E",901,540],["S",893,548]]].forEach(g=>g.forEach(d=>svg.append("text").attr("x",d[1]).attr("y",d[2]).attr("fill",NAVY).style("font-size","13px").text(d[0])));

// side legend leaders
const leaders=[
 ["#000",[[68,16],[133,16],[156,46]]],
 ["#a52a2a",[[102,43],[120,43],[150,95]]],
 ["#f00",[[92,76],[115,76]]],["#f00",[[130,76],[150,100]]],
 ["#00d",[[70,99],[135,99]]],
 ["#6a5acd",[[93,120],[135,114]]],
 ["#f00",[[102,137],[138,137],[145,145]]],
 ["#e8541a",[[106,151],[112,151]]],["#e8541a",[[130,151],[145,168]]],
 ["#000",[[100,166],[113,166]]],["#000",[[130,166],[138,173]]],
 ["#0a0",[[71,179],[140,179]]],["#0a0",[[80,190],[137,190]]],
 ["#14c",[[70,202],[112,202]]],["#14c",[[130,202],[160,172]]],
 ["#14c",[[81,213],[137,213],[160,190]]],
 ["#f00",[[97,224],[145,224]]],
 ["#000",[[52,264],[130,264],[135,262]]],
 ["#f00",[[112,334],[118,334]]],["#f00",[[130,334],[135,318]]],
 ["#f00",[[105,348],[130,348],[143,340]]],
 ["#1a1aa8",[[92,367],[135,367]]],
 ["#1a1aa8",[[84,410],[140,410]]],
 ["#a52a2a",[[100,429],[122,429],[178,445]]],
 ["#000",[[58,468],[135,468],[190,455]]],
 ["#444",[[58,480],[135,480]]],
 ["#999",[[58,490],[130,490],[140,500]]],
 ["#ddd",[[58,500],[130,500],[140,507]]],
 ["#87cefd",[[55,509],[135,509]]],["#87cefd",[[55,512],[135,512]]],
 ["#ff8c00",[[67,527],[130,527],[172,465]]],
 ["#87cefd",[[54,556],[185,556]]],["#87cefd",[[54,559],[185,559]]],
 ["#999",[[50,571],[192,571]]],
 ["#222",[[40,582],[118,582]]],["#222",[[74,594],[150,594]]],
 ["#ffb400",[[28,605],[218,605],[218,590]]],
 ["#000",[[140,622],[150,622],[157,610]]]
];
leaders.forEach(l=>svg.append("path").attr("d",d3.line()(l[1])).attr("fill","none").attr("stroke",l[0]).attr("stroke-width",1));
// highlight rects
svg.append("rect").attr("x",11).attr("y",505).attr("width",43).attr("height",13).attr("fill","#87cefd");
svg.append("rect").attr("x",10).attr("y",551).attr("width",41).attr("height",13).attr("fill","#87cefd");
// side legend text
[["Czas lokalny",6,19,"#000"],["(CET/CEST)",6,31,"#000"],["Temperatura gruntu",6,46,"#a52a2a"],["max/min",28,57,"#a52a2a"],["Temperatura:",6,69,"#000"],["punkt środkowy",13,81,"#f00000"],["max/min",28,91,"#ffdcd0"],["odczuwana",10,103,"#0000e0"],["max/min",28,113,"#b0e0ff"],["Temp. punktu rosy",6,124,"#6a5acd"],
 ["Opad powyżej skali",6,141,"#f00000"],["Wilgotność względna",6,155,"#e8541a"],["Wystąpienie burzy",6,170,"#000"],["Deszcz: max",6,183,"#00a000"],["średni",49,195,"#00a000"],["Śnieg:",6,205,"#1440c8"],["max",49,205,"#1440c8"],["średni",49,216,"#1440c8"],["Wystąpienie opadu",6,228,"#f00000"],["konwekcyjnego",6,241,"#f00000"],
 ["Ciśnienie",5,268,"#000"],["zredukowane",5,281,"#000"],["do poziomu morza",5,293,"#000"],["Wiatr na 10m:",5,323,"#000"],["poryw powyżej skali",10,338,"#f00000"],["max porywy wiatru",10,352,"#f00000"],["prędkość wiatru",10,372,"#1a1aa8"],["w środku obszaru",10,386,"#1a1aa8"],["kierunek wiatru",10,414,"#1a1aa8"],["Wierzchołek chmur",6,433,"#a52a2a"],
 ["Podstawa chmur*",6,449,"#000"],["o pokryciu",6,460,"#000"],["> 7.9 okt.",11,472,"#000"],["> 6.5 okt.",11,483,"#444"],["> 4.5 okt.",11,494,"#999"],["> 2.5 okt.",11,504,"#ddd"],["> 0.1 okt.",11,515,"#fff"],["Widzialność",6,530,"#ff8c00"],["Chmury:",6,547,"#000"],["wysokie",10,561,"#fff"],["średnie",10,573,"#999"],["niske",10,586,"#444"],["bardzo niskie",10,598,"#222"],["Mgła",6,609,"#ffb800"]]
 .forEach(d=>svg.append("text").attr("x",d[1]).attr("y",d[2]).attr("fill",d[3]).style("font-size","11px").text(d[0]));
svg.append("text").attr("x",6).attr("y",626).style("font-size","11px").style("letter-spacing","0.55px").text("Czas uniwersalny (UTC)");
svg.append("text").attr("x",5).attr("y",652).style("font-size","8.5px").style("font-weight","bold").text("* powyżej poziomu morza");

// banner
const b=svg.append("g");
b.append("rect").attr("x",280).attr("y",0).attr("width",630).attr("height",120).attr("fill","url(#bn)");
[["Oficjalna aplikacja",311,39,false],["Meteo ICM",311,67,true],["w Google Play i App Store",311,96,false]].forEach(d=>
 b.append("text").attr("x",d[1]).attr("y",d[2]).attr("fill","#fff").style("font-family",'"Open Sans",sans-serif').style("font-size","19px").style("font-weight",d[3]?700:400).text(d[0]));
b.append("text").attr("x",417).attr("y",67).attr("fill","#fff").style("font-family",'"Open Sans",sans-serif').style("font-size","19px").text("do pobrania");
function phone(x,y,w,h,frame,screen){
 b.append("rect").attr("x",x).attr("y",y).attr("width",w).attr("height",h).attr("rx",7).attr("fill",frame).attr("stroke","#555").attr("stroke-width",1);
 b.append("rect").attr("x",x+2.5).attr("y",y+2.5).attr("width",w-5).attr("height",h-2).attr("rx",5).attr("fill",screen);
 b.append("rect").attr("x",x+w/2-8).attr("y",y+4).attr("width",16).attr("height",4).attr("rx",2).attr("fill","#000");
}
phone(592,7,52,114,"#1b1b20","#0c2a4f");
b.append("text").attr("x",628).attr("y",52).attr("fill","#ddd").style("font-size","8px").text("2.5°");
b.append("rect").attr("x",596).attr("y",26).attr("width",44).attr("height",10).attr("rx",1).attr("fill","#123a68");
phone(649,27,50,94,"#222","#6a6f60");
b.append("rect").attr("x",654).attr("y",46).attr("width",40).attr("height",8).attr("fill","#ddd");
b.append("path").attr("d","M672,62 l8,14 l-4,14 l10,12 l-2,18 l-14,0 z").attr("fill","#3e4238");
phone(623,56,46,66,"#222","#fff");
b.append("rect").attr("x",627).attr("y",69).attr("width",38).attr("height",7).attr("fill","#444");
b.append("rect").attr("x",629).attr("y",85).attr("width",34).attr("height",11).attr("fill","#7fb8e8");
b.append("path").attr("d","M629,88 L637,85 L646,87 L655,84 L663,87").attr("stroke","#e03030").attr("fill","none");
b.append("path").attr("d","M629,101 L636,110 L645,100 L654,112 L663,102").attr("stroke","#e8843a").attr("fill","none");
b.append("path").attr("d","M762,70 A13,14 0 0 0 750,94").attr("fill","none").attr("stroke","#fff").attr("stroke-width",1.6);
b.append("text").attr("x",763).attr("y",92).attr("fill","#fff").style("font-family","Roboto,sans-serif").style("font-size","20px").style("font-weight",700).text("icmmeteo");
b.append("rect").attr("x",860).attr("y",72).attr("width",25).attr("height",27).attr("rx",2).attr("fill","#fff");
b.append("text").attr("x",872.5).attr("y",92).attr("text-anchor","middle").attr("fill","#2f66ae").style("font-family","Roboto,sans-serif").style("font-size","16px").style("font-weight",700).text("M°");
</script>
</body></html>
